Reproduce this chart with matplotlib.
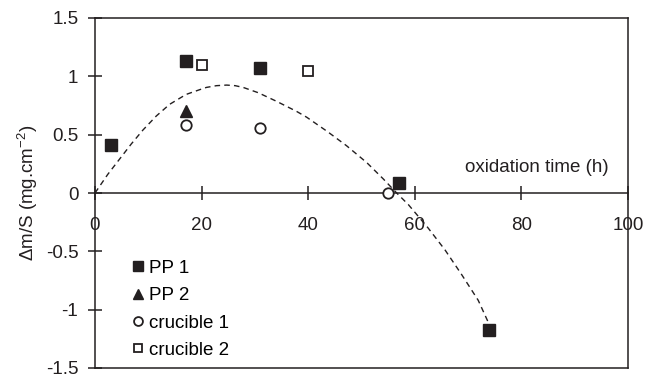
import matplotlib
matplotlib.use("Agg")
import matplotlib.pyplot as plt

plt.rcParams['font.family'] = ['Liberation Sans', 'DejaVu Sans']
plt.rcParams['mathtext.fontset'] = 'custom'
plt.rcParams['mathtext.rm'] = 'Liberation Sans'
plt.rcParams['mathtext.it'] = 'Liberation Sans:italic'

# data
pp1_x = [3, 17, 31, 57, 74]
pp1_y = [0.41, 1.13, 1.07, 0.09, -1.17]
pp2_x = [17]
pp2_y = [0.70]
cru1_x = [17, 31, 55]
cru1_y = [0.58, 0.56, 0.0]
cru2_x = [20, 40]
cru2_y = [1.10, 1.05]
trend_x = [0, 2.4, 4.6, 6.8, 9.0, 11.5, 14.0, 17.1, 19.6, 20.9, 22.8, 24.7, 26.3, 27.8, 30.6,
           34.1, 37.8, 39.7, 43.5, 47.2, 51.0, 54.1, 56.6, 58.8, 62.5, 65.7, 68.8, 71.9, 73.2, 74.0]
trend_y = [0, 0.16, 0.29, 0.42, 0.54, 0.66, 0.76, 0.845, 0.885, 0.905, 0.92, 0.925, 0.92, 0.905, 0.86,
           0.785, 0.70, 0.65, 0.53, 0.405, 0.26, 0.12, 0.0, -0.10, -0.30, -0.49, -0.70, -0.92, -1.05, -1.13]
x_ticks = [0, 20, 40, 60, 80, 100]
y_ticks = [-1.5, -1, -0.5, 0, 0.5, 1, 1.5]
y_tick_labels = ['-1.5', '-1', '-0.5', '0', '0.5', '1', '1.5']

fs = 13.5
fig = plt.figure(figsize=(6.57, 3.78), dpi=100)
ax = fig.add_axes([95/657, 10/378, (628-95)/657, (368-18)/378])
ax.set_xlim(0, 100)
ax.set_ylim(-1.5, 1.5)

ink = '#231f20'
ax.plot(trend_x, trend_y, color=ink, lw=1.0, ls=(0, (4, 3)), zorder=2)
ax.plot(pp1_x, pp1_y, ls='none', marker='s', ms=8, mfc=ink, mec=ink, label='PP 1', zorder=3)
ax.plot(pp2_x, pp2_y, ls='none', marker='^', ms=8, mfc=ink, mec=ink, label='PP 2', zorder=3)
ax.plot(cru1_x, cru1_y, ls='none', marker='o', ms=7.5, mfc='white', mec=ink, mew=1.3, label='crucible 1', zorder=3)
ax.plot(cru2_x, cru2_y, ls='none', marker='s', ms=7.5, mfc='white', mec=ink, mew=1.3, label='crucible 2', zorder=3)

for s in ax.spines.values():
    s.set_linewidth(1.1)
    s.set_color(ink)
ax.spines['bottom'].set_position(('data', 0))
ax.axhline(-1.5, color=ink, lw=1.1, clip_on=False, zorder=1)

ax.set_xticks(x_ticks)
ax.set_yticks(y_ticks)
ax.set_yticklabels(y_tick_labels)
ax.tick_params(axis='both', direction='inout', length=10, width=1.1, color=ink, labelsize=fs, labelcolor=ink)
ax.tick_params(axis='x', pad=12)
ax.tick_params(axis='y', pad=7)

ax.set_ylabel('Δm/S (mg.cm$^{-2}$)', fontsize=fs, color=ink, labelpad=4)
ax.text(69.4, 0.22, 'oxidation time (h)', fontsize=fs, ha='left', va='center', color=ink)

ax.legend(loc='upper left', bbox_to_anchor=(0.07, 0.31), frameon=False, fontsize=fs,
          handlelength=0.6, handletextpad=0.3, labelspacing=0.55, markerscale=0.85,
          borderaxespad=0, borderpad=0)

fig.savefig('out.png', dpi=100)
